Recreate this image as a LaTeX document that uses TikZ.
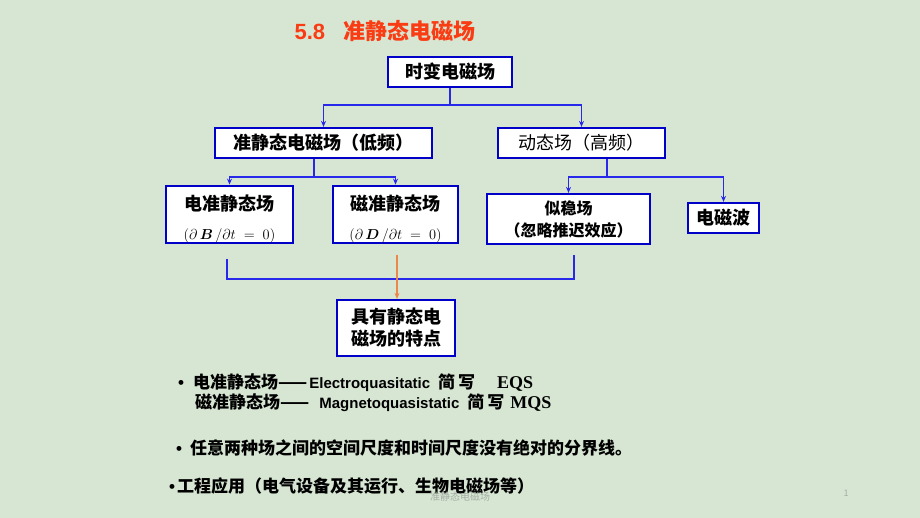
\documentclass[tikz,border=0pt]{standalone}
\usepackage{amsmath}
\usepackage{fontspec}
\setmainfont{Noto Sans CJK SC}
\newfontfamily\latinsans{Liberation Sans}
\newfontfamily\latinserif{Liberation Serif}
\usetikzlibrary{arrows.meta}
\definecolor{bgcolor}{RGB}{214,230,210}
\definecolor{boxblue}{RGB}{0,0,200}
\definecolor{lineblue}{RGB}{40,40,235}
\definecolor{titlered}{RGB}{250,60,20}
\definecolor{linkorange}{RGB}{235,135,75}
\definecolor{footgray}{RGB}{165,175,165}
\tikzset{
	fieldbox/.style={draw=boxblue, line width=2.2pt, fill=white, inner sep=0pt, align=center, font=\fontsize{18}{22}\selectfont\bfseries},
	conn/.style={draw=lineblue, line width=1.1pt},
	connarrow/.style={conn, -{Stealth[length=6pt,width=5pt]}},
	note/.style={anchor=west, inner sep=0pt, font=\fontsize{17}{20}\selectfont\bfseries},
}
\newcommand{\dotmark}{{\latinsans\textbullet}}
\newcommand{\engsans}[1]{{\fontsize{15}{17}\latinsans\selectfont #1}}
\newcommand{\engserif}[1]{{\fontsize{18}{20}\latinserif\selectfont #1}}
\newcommand{\jianxie}{简\hspace{3pt}写}

\begin{document}
\begin{tikzpicture}[x=1pt,y=-1pt]
	% Background
	\fill[bgcolor] (0,0) rectangle (920,518);
	\useasboundingbox (0,0) rectangle (920,518);
	% Title
	\node[anchor=west, text=titlered, font=\fontsize{22}{26}\selectfont\bfseries] (title) at (291,31) {{\latinsans 5.8}\hspace{18pt}准静态电磁场};
	% Boxes
	\node[fieldbox, minimum width=124, minimum height=30] (tvf) at (450,72) {时变电磁场};
	\node[fieldbox, minimum width=217, minimum height=30] (lowf) at (323.5,143) {准静态电磁场（低频）};
	\node[fieldbox, minimum width=167, minimum height=30, font=\fontsize{18}{22}\selectfont] (highf) at (581.5,143) {动态场（高频）};
	\node[fieldbox, minimum width=127, minimum height=55] (eqs) at (229.5,214.5) {\raisebox{0pt}[25pt][3pt]{电准静态场}\\[7pt]{\fontsize{13.5}{14}\selectfont$(\partial\,\boldsymbol{B}\,/\partial t\;=\;0)$}};
	\node[fieldbox, minimum width=125, minimum height=55] (mqs) at (395.5,214.5) {\raisebox{0pt}[25pt][3pt]{磁准静态场}\\[7pt]{\fontsize{13.5}{14}\selectfont$(\partial\,\boldsymbol{D}\,/\partial t\;=\;0)$}};
	\node[fieldbox, minimum width=163, minimum height=50, font=\fontsize{16}{22}\selectfont\bfseries] (slow) at (568.5,219) {似稳场\\（忽略推迟效应）};
	\node[fieldbox, minimum width=71, minimum height=30] (wave) at (723.5,218) {电磁波};
	\node[fieldbox, minimum width=118, minimum height=56, align=left] (feat) at (396,328) {具有静态电\\磁场的特点};
	% Connectors
	\coordinate (tsplit) at (450,105);
	\coordinate (lsplit) at (314,177);
	\coordinate (hsplit) at (607,177);
	\draw[conn] (tvf.south) -- (tsplit);
	\draw[connarrow] (tsplit) -| (lowf.north);
	\draw[connarrow] (tsplit) -| (highf.north);
	\draw[conn] (lowf.south -| lsplit) -- (lsplit);
	\draw[connarrow] (lsplit) -| (eqs.north);
	\draw[connarrow] (lsplit) -| (mqs.north);
	\draw[conn] (highf.south -| hsplit) -- (hsplit);
	\draw[connarrow] (hsplit) -| (slow.north);
	\draw[connarrow] (hsplit) -| (wave.north);
	% Bracket
	\coordinate (bl) at (227,259);
	\coordinate (br) at (574,255);
	\coordinate (bb) at (0,279);
	\coordinate (otop) at (397,255);
	\draw[conn] (bl) -- (bl |- bb) -- (br |- bb) -- (br);
	\draw[draw=linkorange, line width=1.1pt, -{Stealth[length=6pt,width=5pt]}] (otop) -- (otop |- feat.north);
	% Notes
	\node[note] (eqsnote) at (178,383) {\dotmark\hspace{9pt}电准静态场——\hspace{2pt}\engsans{Electroquasitatic}\hspace{8pt}\jianxie\hspace{22pt}\engserif{EQS}};
	\node[note] (mqsnote) at (195,403) {磁准静态场——\hspace{10pt}\engsans{Magnetoquasistatic}\hspace{8pt}\jianxie\hspace{6pt}\engserif{MQS}};
	\node[note] (scalenote) at (176,448) {\dotmark\hspace{8pt}任意两种场之间的空间尺度和时间尺度没有绝对的分界线。};
	\node[note] (usenote) at (169,486) {\dotmark\hspace{2pt}工程应用（电气设备及其运行、生物电磁场等）};
	% Footer
	\node[text=footgray, font=\fontsize{10}{12}\selectfont] (footer) at (460,497) {准静态电磁场};
	\node[text=footgray, font=\fontsize{9}{11}\selectfont] (pagenum) at (846,493) {1};
\end{tikzpicture}
\end{document}
